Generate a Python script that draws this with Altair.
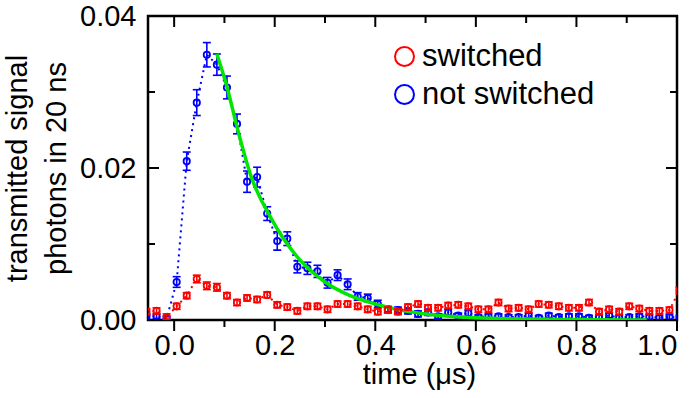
import altair as alt
import pandas as pd

# ---------------- data ----------------
times = [round(-0.055 + 0.02 * k, 3) for k in range(54)]

not_switched = [0.0005, 0.0005, 0.0002, 0.0050, 0.0209, 0.0286, 0.0349, 0.0336, 0.0306, 0.0258,
                0.0182, 0.0188, 0.0140, 0.0104, 0.0107, 0.0070, 0.0068, 0.0064, 0.0049, 0.0059,
                0.0047, 0.0031, 0.0029, 0.0021, 0.0014, 0.0013, 0.0012, 0.0008, 0.0010, 0.0005,
                0.0010, 0.0006, 0.0009, 0.0004, 0.0005, 0.0005, 0.0004, 0.0004, 0.0006, 0.0003,
                0.0006, 0.0004, 0.0005, 0.0005, 0.0003, 0.0004, 0.0006, 0.0003, 0.0004, 0.0005,
                0.0004, 0.0003, 0.0004, 0.0003]
not_switched_err = [0.0003, 0.0003, 0.0003, 0.0007, 0.0012, 0.0017, 0.0016, 0.0014, 0.0015, 0.0013,
                    0.0014, 0.0013, 0.0009, 0.0012, 0.0009, 0.0008, 0.0008, 0.0008, 0.0007, 0.0007,
                    0.0007, 0.0005, 0.0005, 0.0005, 0.0004, 0.0004, 0.0004, 0.0004, 0.0004, 0.0003,
                    0.0004, 0.0003, 0.0004, 0.0003, 0.0003, 0.0003, 0.0003, 0.0003, 0.0003, 0.0003,
                    0.0003, 0.0003, 0.0003, 0.0003, 0.0003, 0.0003, 0.0003, 0.0003, 0.0003, 0.0003,
                    0.0003, 0.0003, 0.0003, 0.0003]

switched = [0.0011, 0.0012, 0.0004, 0.0018, 0.0032, 0.0054, 0.0045, 0.0043, 0.0032, 0.0023,
            0.0029, 0.0027, 0.0033, 0.0020, 0.0017, 0.0012, 0.0018, 0.0018, 0.0014, 0.0021,
            0.0021, 0.0018, 0.0014, 0.0011, 0.0013, 0.0011, 0.0017, 0.0021, 0.0016, 0.0016,
            0.0019, 0.0020, 0.0018, 0.0014, 0.0014, 0.0023, 0.0015, 0.0016, 0.0014, 0.0021,
            0.0020, 0.0018, 0.0016, 0.0016, 0.0023, 0.0011, 0.0014, 0.0011, 0.0018, 0.0015,
            0.0012, 0.0012, 0.0013, 0.0039]
switched_err = [0.0004] * 3 + [0.0004, 0.0004, 0.0005, 0.0005, 0.0005, 0.0004, 0.0004] + [0.0004] * 44

fit_t = [0.085, 0.105, 0.125, 0.153, 0.191, 0.25, 0.30, 0.35, 0.40, 0.45, 0.50, 0.60, 0.70, 0.80, 0.94]
fit_v = [0.0350, 0.0307, 0.0254, 0.0189, 0.0136, 0.0079, 0.0050, 0.0032, 0.0021, 0.0013, 0.0008,
         0.0003, 0.00012, 0.00005, 0.0]

series_names = ["switched", "not switched"]
series_colors = ["#ff0000", "#0000ff"]

x_major = [0.0, 0.2, 0.4, 0.6, 0.8, 1.0]
x_minor = [0.1, 0.3, 0.5, 0.7, 0.9]
y_major = [0.0, 0.02, 0.04]
y_minor = [0.01, 0.03]

# ---------------- layout ----------------
W, H = 529, 304
FONT = "Liberation Sans"
MAJ, MIN = 11, 7

rows = []
for t, v, e in zip(times, not_switched, not_switched_err):
    rows.append({"t": t, "v": v, "lo": v - e, "hi": v + e, "series": "not switched"})
for t, v, e in zip(times, switched, switched_err):
    rows.append({"t": t, "v": v, "lo": v - e, "hi": v + e, "series": "switched"})
df = pd.DataFrame(rows)
fit_df = pd.DataFrame({"t": fit_t, "v": fit_v})

xscale = alt.Scale(domain=[-0.052, 1.0], nice=False, zero=False)
yscale = alt.Scale(domain=[0, 0.04], nice=False)
cscale = alt.Scale(domain=series_names, range=series_colors)

X = alt.X("t:Q", scale=xscale,
          axis=alt.Axis(values=x_major, format=".1f", title="time (μs)", ticks=False, domain=False,
                        grid=False, labelPadding=11, titlePadding=0, titleX=271))
Y = alt.Y("v:Q", scale=yscale,
          axis=alt.Axis(values=y_major, format=".2f", title=["transmitted signal", "photons in 20 ns"],
                        ticks=False, domain=False, grid=False, labelPadding=12, titlePadding=8))

legend = alt.Legend(title=None, orient="none", legendX=241, legendY=25)


def series_layers(name, color):
    d = alt.Chart(df).transform_filter(alt.datum.series == name)
    line = d.mark_line(strokeDash=[2, 4], strokeWidth=2, clip=True, color=color).encode(x=X, y=Y)
    bars = d.mark_rule(strokeWidth=1.6, clip=True, color=color).encode(x="t:Q", y="lo:Q", y2="hi:Q")
    cap_hi = d.mark_tick(orient="horizontal", size=8, thickness=1.6, clip=True, color=color,
                         opacity=1).encode(x="t:Q", y="hi:Q")
    cap_lo = d.mark_tick(orient="horizontal", size=8, thickness=1.6, clip=True, color=color,
                         opacity=1).encode(x="t:Q", y="lo:Q")
    pts = d.mark_point(shape="circle", filled=False, size=40, strokeWidth=1.8, opacity=1,
                       clip=True).encode(
        x="t:Q", y="v:Q", color=alt.Color("series:N", scale=cscale, legend=legend))
    return [line, bars, cap_hi, cap_lo, pts]


fit = alt.Chart(fit_df).mark_line(color="#00e600", strokeWidth=3.5, interpolate="monotone",
                                  clip=True).encode(x="t:Q", y="v:Q")


def rules_x(vals, y0, y1):
    return alt.Chart(pd.DataFrame({"t": vals})).mark_rule(color="black", strokeWidth=2).encode(
        x="t:Q", y=alt.value(y0), y2=alt.value(y1))


def rules_y(vals, x0, x1):
    return alt.Chart(pd.DataFrame({"v": vals})).mark_rule(color="black", strokeWidth=2).encode(
        y="v:Q", x=alt.value(x0), x2=alt.value(x1))


frame_ticks = [
    rules_x(x_major, H, H + MAJ), rules_x(x_minor, H, H + MIN),
    rules_x(x_major, 0, MAJ), rules_x(x_minor, 0, MIN),
    rules_y(y_major, 0, MAJ), rules_y(y_minor, 0, MIN),
    rules_y(y_major, W - MAJ, W), rules_y(y_minor, W - MIN, W),
]

layers = (series_layers("not switched", series_colors[1]) + [fit]
          + series_layers("switched", series_colors[0]) + frame_ticks)

chart = alt.layer(*layers).properties(
    width=W, height=H,
    background="white",
    autosize=alt.AutoSizeParams(type="none"),
    padding={"left": 148, "top": 16, "right": 22, "bottom": 78},
).configure_view(
    stroke="black", strokeWidth=2.5
).configure_axis(
    labelFont=FONT, labelFontSize=29, labelColor="black",
    titleFont=FONT, titleFontSize=29, titleColor="black", titleFontWeight="normal",
    titleLineHeight=39,
).configure_legend(
    symbolType="circle", symbolSize=360, symbolStrokeWidth=2, symbolOpacity=1,
    labelFont=FONT, labelFontSize=31, labelColor="black", labelOffset=2,
    rowPadding=6, labelLimit=400,
)

chart.save("out.html", embed_options={"renderer": "svg", "actions": False})
